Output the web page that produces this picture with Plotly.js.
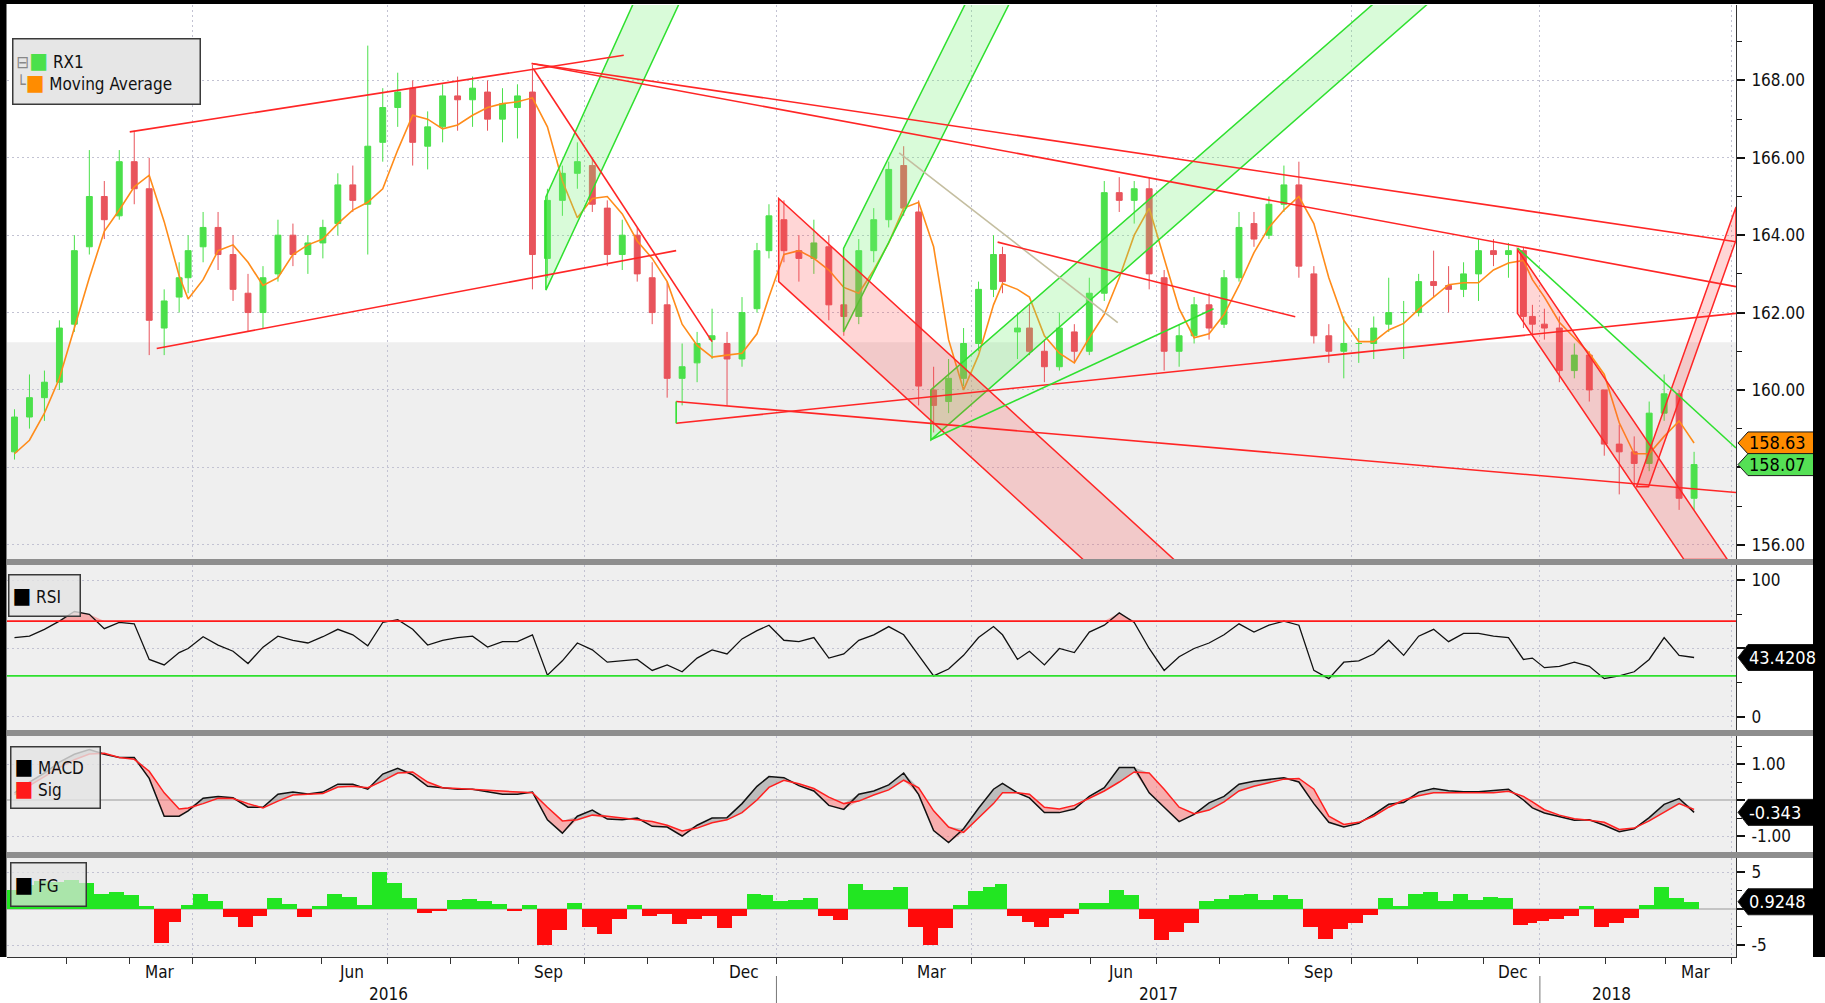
<!DOCTYPE html>
<html>
<head>
<meta charset="utf-8">
<script src="https://cdn.plot.ly/plotly-3.0.1.min.js"></script>
<style>
html,body{margin:0;padding:0;background:#ffffff;overflow:hidden;}
#chart{width:1825px;height:1003px;}
</style>
</head>
<body>
<div id="chart"></div>
<script>
// ---------------- data (weekly samples) ----------------
const weekDates = [
'2016-01-06','2016-01-13','2016-01-20','2016-01-27','2016-02-03','2016-02-10','2016-02-17','2016-02-24','2016-03-02','2016-03-09',
'2016-03-16','2016-03-23','2016-03-30','2016-04-06','2016-04-13','2016-04-20','2016-04-27','2016-05-04','2016-05-11','2016-05-18',
'2016-05-25','2016-06-01','2016-06-08','2016-06-15','2016-06-22','2016-06-29','2016-07-06','2016-07-13','2016-07-20','2016-07-27',
'2016-08-03','2016-08-10','2016-08-17','2016-08-24','2016-08-31','2016-09-07','2016-09-14','2016-09-21','2016-09-28','2016-10-05',
'2016-10-12','2016-10-19','2016-10-26','2016-11-02','2016-11-09','2016-11-16','2016-11-23','2016-11-30','2016-12-07','2016-12-14',
'2016-12-21','2016-12-28',
'2017-01-04','2017-01-11','2017-01-18','2017-01-25','2017-02-01','2017-02-08','2017-02-15','2017-02-22',
'2017-03-01','2017-03-08','2017-03-15','2017-03-22','2017-03-29','2017-04-05','2017-04-12','2017-04-19','2017-04-26','2017-05-03',
'2017-05-10','2017-05-17','2017-05-24','2017-05-31','2017-06-07','2017-06-14','2017-06-21','2017-06-28','2017-07-05','2017-07-12',
'2017-07-19','2017-07-26','2017-08-02','2017-08-09','2017-08-16','2017-08-23','2017-08-30','2017-09-06','2017-09-13','2017-09-20',
'2017-09-27','2017-10-04','2017-10-11','2017-10-18','2017-10-25','2017-11-01','2017-11-08','2017-11-15','2017-11-22','2017-11-29',
'2017-12-06','2017-12-13','2017-12-20','2017-12-27',
'2018-01-03','2018-01-10','2018-01-17','2018-01-24','2018-01-31','2018-02-07','2018-02-14','2018-02-21','2018-02-28','2018-03-07','2018-03-14'
];

const rx1Open = [
158.4,159.3,159.8,160.2,161.7,163.7,165.0,164.5,165.9,165.2,
161.6,162.4,162.9,163.7,164.2,163.5,162.5,162.0,163.0,164.0,
163.5,163.8,164.3,165.3,164.8,166.4,167.3,167.8,166.3,166.8,
167.6,167.5,167.7,167.0,167.3,167.7,163.4,164.9,165.6,165.8,
164.7,163.5,164.0,162.9,162.2,160.3,160.7,161.3,161.2,160.8,
162.1,163.6,164.4,163.6,163.4,163.7,162.2,161.9,163.6,164.4,
165.8,164.6,160.0,159.7,160.3,161.2,162.6,163.5,161.5,161.6,
161.0,160.6,161.5,161.0,162.5,165.1,164.9,165.2,162.9,161.0,
161.4,162.2,161.7,162.9,164.3,164.0,164.8,165.3,163.0,161.4,
161.0,161.2,161.2,161.7,162.0,162.0,162.8,162.7,162.6,163.0,
163.6,163.5,163.6,161.9,161.7,161.6,160.5,160.9,160.0,158.6,
158.4,158.1,159.4,159.9,157.2];
const rx1High = [
159.5,160.4,160.5,161.8,164.0,166.2,165.4,166.2,166.7,166.0,
162.6,163.3,164.0,164.6,164.6,164.0,163.0,163.2,164.4,164.3,
164.0,164.4,165.6,165.8,168.9,167.8,168.2,168.0,167.2,167.9,
168.1,168.1,168.0,167.8,167.9,168.4,165.2,165.8,166.4,166.0,
164.9,164.4,164.2,163.3,162.8,161.2,161.5,162.1,161.5,162.4,
163.8,164.8,164.9,164.0,164.4,164.0,162.6,163.9,164.7,165.9,
166.3,164.9,160.6,160.8,161.6,162.8,164.0,163.7,162.0,162.2,
161.3,162.0,161.7,162.9,165.4,165.5,165.4,165.5,163.1,161.7,
162.4,162.5,163.1,164.6,164.6,165.0,165.8,165.9,163.2,161.7,
161.9,161.6,161.9,162.9,162.3,163.0,163.6,163.2,163.3,163.9,
163.9,163.8,163.7,162.2,162.1,161.9,161.2,161.0,160.0,159.1,
158.8,159.7,160.4,160.0,158.4];
const rx1Low = [
158.2,159.0,159.2,160.0,161.5,163.5,163.9,164.4,164.8,160.9,
160.9,162.0,162.5,163.3,163.1,162.3,161.5,161.6,162.8,163.2,
163.0,163.4,164.0,164.6,163.5,165.9,166.8,165.8,165.7,166.4,
166.7,166.8,166.7,166.4,166.5,162.6,162.9,164.5,165.2,164.6,
163.2,163.1,162.8,161.7,159.8,159.6,160.2,160.8,159.6,160.6,
162.0,163.4,163.3,162.8,163.0,161.8,161.4,161.7,163.3,164.2,
164.5,159.6,158.9,159.4,160.1,161.0,162.4,162.5,160.8,160.9,
160.2,160.5,160.7,160.9,162.3,164.6,164.3,162.6,160.5,160.6,
161.2,161.3,161.6,162.8,163.7,163.9,164.6,162.9,161.2,160.7,
160.3,160.7,160.8,161.5,160.8,161.9,162.4,162.0,162.4,162.3,
163.2,162.9,161.6,161.4,161.3,160.2,160.3,159.7,158.3,157.3,
157.5,157.9,159.2,156.9,156.9];
const rx1Close = [
159.3,159.8,160.2,161.6,163.6,165.0,164.4,165.9,165.2,161.8,
162.3,162.9,163.6,164.2,163.5,162.6,162.0,162.9,164.0,163.5,
163.8,164.2,165.3,164.9,166.3,167.3,167.7,166.4,166.8,167.6,
167.5,167.8,167.0,167.4,167.6,163.5,164.9,165.6,165.9,164.8,
163.5,164.0,163.0,162.0,160.3,160.6,161.2,161.4,160.8,162.0,
163.6,164.5,163.6,163.4,163.8,162.2,161.9,163.6,164.4,165.7,
164.7,160.1,159.6,160.3,161.2,162.6,163.5,162.8,161.6,161.0,
160.6,161.6,161.0,162.5,165.1,164.9,165.2,163.0,161.0,161.4,
162.2,161.6,162.9,164.2,163.9,164.8,165.3,163.2,161.4,161.0,
161.2,161.2,161.6,162.0,162.0,162.8,162.7,162.6,163.0,163.6,
163.5,163.6,161.9,161.7,161.6,160.5,160.9,160.0,158.6,158.4,
158.1,159.4,159.9,157.2,158.07];

const movingAverage = [
158.35,158.7,159.4,160.3,161.6,162.9,164.1,164.65,165.25,165.55,
164.35,162.95,162.35,162.85,163.6,163.75,163.3,162.7,162.9,163.5,
163.75,163.9,164.3,164.65,164.85,165.2,166.2,167.1,167.0,166.75,
166.85,167.1,167.3,167.4,167.45,167.55,166.8,165.4,164.45,164.95,
165.0,164.55,163.85,163.4,162.8,161.7,161.15,160.85,160.9,160.95,
161.45,162.4,
163.5,163.6,163.4,163.1,162.65,162.5,163.1,163.8,
164.7,164.85,163.7,161.3,160.0,160.9,162.2,162.75,162.6,162.4,
161.4,160.95,160.7,161.35,161.95,162.9,164.0,164.7,163.4,162.1,
161.35,161.45,161.95,162.7,163.55,164.2,164.65,165.0,164.3,162.9,
161.8,161.25,161.25,161.55,161.72,162.08,162.4,162.72,162.77,162.77,
163.1,163.28,163.35,162.85,
162.4,161.75,161.35,160.95,160.4,159.15,158.35,158.35,158.8,159.2,158.63];

const rsi = [
58,59,64,70,77,75,64.5,69,68,42,
38,47,50,58.6,52.5,48,39,51,59,56,
54,58.6,64,60,52,69,71,64,52.5,56,
58,59,51,55,55,60,30.5,41,54,49,
40,41,42,34,38,33,43,49,46,57,
63,67,
56,55,58,43,46,56,60,66,
60,45,30,35,45,58,66,60,42,48,
38,50,47,62,67,76,69,50,34,44,
50,54,60,68,62,67,70,67,34,28,
40,41,46,56,45,59,64,55,61,61,
59,58,42,43,
36,37,40,37,28,30,33,42,58,45,43.4208];

const macd = [
0.2,0.5,0.75,1.05,1.27,1.40,1.27,1.18,1.18,0.6,
-0.45,-0.45,-0.3,0.05,0.1,0.06,-0.2,-0.2,0.16,0.22,
0.17,0.22,0.44,0.44,0.3,0.72,0.88,0.7,0.38,0.33,
0.3,0.3,0.23,0.16,0.16,0.22,-0.55,-0.92,-0.45,-0.28,
-0.53,-0.55,-0.5,-0.73,-0.75,-1.0,-0.7,-0.5,-0.49,-0.1,
0.38,0.65,
0.62,0.4,0.25,-0.15,-0.26,0.16,0.25,0.42,
0.75,0.15,-0.85,-1.18,-0.8,-0.23,0.3,0.46,0.2,0.06,
-0.35,-0.35,-0.25,0.1,0.34,0.9,0.9,0.2,-0.2,-0.6,
-0.4,-0.08,0.1,0.44,0.52,0.58,0.62,0.5,-0.1,-0.62,
-0.75,-0.65,-0.4,-0.12,-0.07,0.22,0.32,0.26,0.23,0.23,
0.26,0.3,0.0,-0.22,
-0.36,-0.46,-0.56,-0.55,-0.7,-0.88,-0.8,-0.49,-0.12,0.04,-0.343];

const macdSignal = [
0.15,0.4,0.65,0.9,1.12,1.28,1.30,1.18,1.13,0.8,
0.2,-0.25,-0.22,-0.1,0.05,0.04,-0.1,-0.22,-0.03,0.14,
0.16,0.18,0.36,0.38,0.34,0.53,0.75,0.78,0.5,0.34,
0.32,0.3,0.27,0.25,0.22,0.2,-0.2,-0.58,-0.55,-0.42,
-0.45,-0.5,-0.53,-0.6,-0.7,-0.86,-0.78,-0.63,-0.55,-0.35,
0.0,0.35,
0.55,0.45,0.32,0.08,-0.1,-0.03,0.14,0.28,
0.55,0.34,-0.3,-0.75,-0.9,-0.5,-0.1,0.2,0.2,0.16,
-0.2,-0.25,-0.15,0.05,0.25,0.5,0.78,0.75,0.3,-0.2,
-0.38,-0.28,-0.05,0.25,0.38,0.48,0.58,0.6,0.3,-0.45,
-0.68,-0.62,-0.45,-0.2,0.0,0.12,0.2,0.2,0.2,0.2,
0.2,0.24,0.1,-0.05,
-0.27,-0.42,-0.52,-0.56,-0.62,-0.82,-0.78,-0.58,-0.35,-0.1,-0.26];

const fg = [
2.5,3.2,3.8,3.6,3.9,3.5,2.0,2.2,1.8,0.3,
-4.7,-1.8,0.5,2.0,1.0,-1.2,-2.5,-1.0,1.5,0.6,
-1.2,0.3,2.0,1.6,0.5,5.0,3.5,1.5,-0.6,-0.4,
1.2,1.3,1.0,0.6,-0.3,0.5,-5.0,-3.0,0.8,-2.5,
-3.5,-1.5,0.5,-1.0,-0.8,-2.1,-1.5,-1.0,-2.7,-1.0,
2.0,1.8,
1.0,1.2,1.5,-1.0,-1.6,3.3,2.5,2.5,
3.0,-2.5,-5.0,-2.6,0.5,2.4,2.9,3.4,-1.0,-1.8,
-2.5,-1.3,-0.8,0.8,0.7,2.6,1.8,-1.5,-4.3,-3.2,
-2.0,1.0,1.3,1.8,2.0,1.2,1.8,1.3,-2.5,-4.2,
-2.8,-2.0,-0.9,1.5,0.4,2.0,2.3,1.0,2.0,1.2,
1.6,1.5,-2.2,-2.0,
-1.7,-1.4,-1.0,0.3,-2.5,-2.0,-1.3,0.5,3.0,1.5,0.9248];

// axis / calendar
const X_START = '2016-01-04 00:00';
const X_END = '2018-04-03 12:00';
const exchangeHolidays = ['2016-03-25','2016-03-28','2016-12-26','2017-04-14','2017-04-17','2017-05-01','2017-12-25','2017-12-26','2018-01-01'];
const monthStarts = ['2016-02-01','2016-03-01','2016-04-01','2016-05-02','2016-06-01','2016-07-01','2016-08-01','2016-09-01','2016-10-03','2016-11-01','2016-12-01',
  '2017-01-02','2017-02-01','2017-03-01','2017-04-03','2017-05-02','2017-06-01','2017-07-03','2017-08-01','2017-09-01','2017-10-02','2017-11-01','2017-12-01',
  '2018-01-02','2018-02-01','2018-03-01','2018-04-02'];
const quarterStarts = ['2016-04-01','2016-07-01','2016-10-03','2017-01-02','2017-04-03','2017-07-03','2017-10-02','2018-01-02','2018-04-02'];
const monthLabels = ['Mar','Jun','Sep','Dec','Mar','Jun','Sep','Dec','Mar'];
const monthLabelDates = ['2016-03-15','2016-06-15','2016-09-15','2016-12-15','2017-03-15','2017-06-15','2017-09-15','2017-12-15','2018-03-15'];
const yearLabels = ['2016','2017','2018'];
const yearLabelDates = ['2016-07-01 12:00','2017-07-03 12:00','2018-02-05 00:00'];
const yearDividers = ['2017-01-02','2018-01-02'];
const priceTicks = [156,158,160,162,164,166,168];
const priceMinorTicks = [157,159,161,163,165,167,169];
const rsiTicks = [0,50,100];
const rsiTickText = ['0','','100'];      // "50" sits under the value tag
const macdTicks = [-1,0,1];
const macdTickText = ['-1.00','','1.00']; // "0.00" sits under the value tag
const fgTicks = [-5,0,5];
const fgTickText = ['-5','','5'];         // "0" sits under the value tag

// drawn studies: [date0, price0, date1, price1]
const redLines = [
  ['2016-03-01 00:00',166.67,'2016-10-20 00:00',168.65],
  ['2016-03-14 00:00',161.07,'2016-11-14 12:00',163.60],
  ['2016-09-07 06:00',168.44,'2018-04-03 12:00',163.83],
  ['2016-09-07 06:00',168.44,'2018-04-03 12:00',162.67],
  ['2016-09-07 18:00',168.31,'2016-11-30 12:00',161.25],
  ['2016-11-14 12:00',159.70,'2018-04-03 12:00',157.35],
  ['2016-11-14 12:00',159.14,'2018-04-03 12:00',161.98],
  ['2017-04-13 21:00',163.82,'2017-09-05 07:00',161.89]
];
const greenLines = [
  ['2016-11-14 12:00',159.14,'2016-11-14 12:00',159.70],
  ['2017-03-14 14:00',158.71,'2017-07-28 00:00',162.10],
  ['2017-12-18 12:00',163.67,'2018-04-03 12:00',158.50]
];
const tanLines = [
  ['2017-02-28 00:00',166.13,'2017-06-14 00:00',161.74]
];
// channel polygons: list of [date, price] corners
const greenChannels = [
  [['2016-09-14 00:00',162.58],['2016-11-16 00:00',170.07],['2016-10-25 16:00',170.07],['2016-09-14 00:00',164.99]],
  [['2017-02-01 10:00',161.50],['2017-04-24 08:00',170.07],['2017-03-30 16:00',170.07],['2017-02-01 10:00',163.66]],
  [['2017-03-14 14:00',158.71],['2017-11-07 21:00',170.07],['2017-10-12 17:00',170.07],['2017-03-14 14:00',160.00]]
];
const redChannels = [
  [['2017-01-02 18:00',164.95],['2017-07-11 00:00',155.60],['2017-05-29 16:00',155.60],['2017-01-02 18:00',162.80]],
  [['2017-12-18 12:00',163.63],['2018-03-29 14:00',155.62],['2018-03-09 02:00',155.62],['2017-12-18 12:00',161.98]],
  [['2018-02-15 07:00',157.50],['2018-04-03 12:00',164.73],['2018-04-03 12:00',163.87],['2018-02-21 07:00',157.50]]
];
const shadedBandFloor = 161.23;

// ---------------- styling ----------------
const FONT = '"DejaVu Sans Condensed", "Liberation Sans Narrow", "DejaVu Sans", Arial, sans-serif';
const GRID = '#c2c2d2';
const UP = '#4be04b', DN = '#e8545c';
const RED = '#ff2626', GREEN = '#2fe02f';

const W = 1825, H = 1003, ML = 7, MR = 89, MT = 5, MB = 46;
const PW = W - ML - MR, PH = H - MT - MB;
const px2x = X => (X - ML) / PW;
const px2y = Y => (H - MB - Y) / PH;

const xMid = weekDates.map(d => d + ' 12:00');
const breaks = [{bounds: ['sat', 'mon']}, {values: exchangeHolidays}];
const otherMonths = monthStarts.filter(d => quarterStarts.indexOf(d) < 0);

function xAxis(anchor, bottom) {
  const a = {type: 'date', anchor: anchor, domain: [0, 1], range: [X_START, X_END], rangebreaks: breaks,
    tickmode: 'array', tickvals: quarterStarts, showgrid: true, gridcolor: GRID, griddash: '2px,3px', gridwidth: 1,
    showticklabels: false, ticks: '', zeroline: false, showline: false, fixedrange: true,
    rangeslider: {visible: false}};
  if (bottom) {
    Object.assign(a, {ticks: 'outside', ticklen: 6, tickwidth: 1, tickcolor: '#333', showline: true, linecolor: '#333', linewidth: 1,
      minor: {tickmode: 'array', tickvals: otherMonths, ticks: 'outside', ticklen: 6, tickwidth: 1, tickcolor: '#333', showgrid: false}});
  }
  return a;
}
function yAxis(anchor, domain, range, tickvals, ticktext, minorvals, fmt, zero) {
  const a = {anchor: anchor, domain: domain, range: range, side: 'right', tickmode: 'array', tickvals: tickvals,
    ticks: 'outside', ticklen: 8, tickwidth: 2, tickcolor: '#111', ticklabelstandoff: 3,
    tickfont: {family: FONT, size: 17, color: '#111'}, showline: true, linecolor: '#333', linewidth: 1,
    showgrid: true, gridcolor: GRID, griddash: '2px,3px', gridwidth: 1,
    zeroline: !!zero, zerolinecolor: '#c4c4c4', zerolinewidth: 2, fixedrange: true,
    minor: {tickmode: 'array', tickvals: minorvals, ticks: 'outside', ticklen: 5, tickwidth: 1, tickcolor: '#111', showgrid: false}};
  if (ticktext) a.ticktext = ticktext; else a.tickformat = fmt;
  return a;
}

// ---------------- traces ----------------
const traces = [];
traces.push({type: 'candlestick', x: xMid, open: rx1Open, high: rx1High, low: rx1Low, close: rx1Close,
  xaxis: 'x', yaxis: 'y', whiskerwidth: 0,
  increasing: {line: {color: UP, width: 1}, fillcolor: UP},
  decreasing: {line: {color: DN, width: 1}, fillcolor: DN},
  hoverinfo: 'skip', showlegend: false});
traces.push({type: 'scatter', mode: 'lines', x: xMid, y: movingAverage, xaxis: 'x', yaxis: 'y',
  line: {color: '#ff8c1a', width: 1.6}, hoverinfo: 'skip', showlegend: false});

// RSI with overbought / oversold fills
const rsi70 = rsi.map(() => 70), rsi30 = rsi.map(() => 30);
traces.push({type: 'scatter', mode: 'lines', x: xMid, y: rsi70, xaxis: 'x2', yaxis: 'y2', line: {width: 0}, hoverinfo: 'skip', showlegend: false});
traces.push({type: 'scatter', mode: 'lines', x: xMid, y: rsi.map(v => Math.max(v, 70)), xaxis: 'x2', yaxis: 'y2', line: {width: 0},
  fill: 'tonexty', fillcolor: 'rgba(255,90,90,0.45)', hoverinfo: 'skip', showlegend: false});
traces.push({type: 'scatter', mode: 'lines', x: xMid, y: rsi30, xaxis: 'x2', yaxis: 'y2', line: {width: 0}, hoverinfo: 'skip', showlegend: false});
traces.push({type: 'scatter', mode: 'lines', x: xMid, y: rsi.map(v => Math.min(v, 30)), xaxis: 'x2', yaxis: 'y2', line: {width: 0},
  fill: 'tonexty', fillcolor: 'rgba(110,235,110,0.45)', hoverinfo: 'skip', showlegend: false});
traces.push({type: 'scatter', mode: 'lines', x: xMid, y: rsi, xaxis: 'x2', yaxis: 'y2', line: {color: '#111', width: 1.3},
  hoverinfo: 'skip', showlegend: false});

// MACD with fills between MACD and signal
traces.push({type: 'scatter', mode: 'lines', x: xMid, y: macdSignal, xaxis: 'x3', yaxis: 'y3', line: {width: 0}, hoverinfo: 'skip', showlegend: false});
traces.push({type: 'scatter', mode: 'lines', x: xMid, y: macd.map((v, i) => Math.min(v, macdSignal[i])), xaxis: 'x3', yaxis: 'y3', line: {width: 0},
  fill: 'tonexty', fillcolor: 'rgba(255,110,110,0.5)', hoverinfo: 'skip', showlegend: false});
traces.push({type: 'scatter', mode: 'lines', x: xMid, y: macdSignal, xaxis: 'x3', yaxis: 'y3', line: {width: 0}, hoverinfo: 'skip', showlegend: false});
traces.push({type: 'scatter', mode: 'lines', x: xMid, y: macd.map((v, i) => Math.max(v, macdSignal[i])), xaxis: 'x3', yaxis: 'y3', line: {width: 0},
  fill: 'tonexty', fillcolor: 'rgba(140,140,140,0.5)', hoverinfo: 'skip', showlegend: false});
traces.push({type: 'scatter', mode: 'lines', x: xMid, y: macd, xaxis: 'x3', yaxis: 'y3', line: {color: '#111', width: 1.5}, hoverinfo: 'skip', showlegend: false});
traces.push({type: 'scatter', mode: 'lines', x: xMid, y: macdSignal, xaxis: 'x3', yaxis: 'y3', line: {color: '#ff2020', width: 1.5}, hoverinfo: 'skip', showlegend: false});

// FG histogram
traces.push({type: 'bar', x: xMid, y: fg, xaxis: 'x4', yaxis: 'y4',
  marker: {color: fg.map(v => v >= 0 ? '#22e622' : '#ff0a0a'), line: {width: 0}}, hoverinfo: 'skip', showlegend: false});

// ---------------- shapes ----------------
const shapes = [];
// white upper band of price panel
shapes.push({type: 'rect', xref: 'x domain', yref: 'y', x0: 0, x1: 1, y0: shadedBandFloor, y1: 171, fillcolor: '#ffffff', line: {width: 0}, layer: 'below'});

const toPath = pts => pts.map((p, i) => (i ? 'L' : 'M') + p[0].replace(' ', '_') + ',' + p[1]).join('') + 'Z';
greenChannels.forEach(pts => shapes.push({type: 'path', xref: 'x', yref: 'y', path: toPath(pts),
  fillcolor: 'rgba(120,240,120,0.28)', line: {color: GREEN, width: 1.5}, layer: 'above'}));
redChannels.forEach(pts => shapes.push({type: 'path', xref: 'x', yref: 'y', path: toPath(pts),
  fillcolor: 'rgba(255,70,70,0.22)', line: {color: RED, width: 1.5}, layer: 'above'}));
const seg = (l, color) => ({type: 'line', xref: 'x', yref: 'y', x0: l[0], y0: l[1], x1: l[2], y1: l[3], line: {color: color, width: 1.6}, layer: 'above'});
tanLines.forEach(l => shapes.push(seg(l, '#c4bea0')));
redLines.forEach(l => shapes.push(seg(l, RED)));
greenLines.forEach(l => shapes.push(seg(l, GREEN)));

// RSI 70 / 30 lines
shapes.push({type: 'line', xref: 'x2 domain', yref: 'y2', x0: 0, x1: 1, y0: 70, y1: 70, line: {color: '#ff1a1a', width: 1.6}, layer: 'above'});
shapes.push({type: 'line', xref: 'x2 domain', yref: 'y2', x0: 0, x1: 1, y0: 30, y1: 30, line: {color: '#2ee02e', width: 1.6}, layer: 'above'});

// value tags on the right axis
const tag = (yref, value, fill, hh) => ({type: 'path', xref: 'paper', yref: yref, xsizemode: 'pixel', ysizemode: 'pixel',
  xanchor: 1, yanchor: value, path: 'M2,0L12,' + hh + 'L80,' + hh + 'L80,-' + hh + 'L12,-' + hh + 'Z',
  fillcolor: fill, line: {color: '#1a1a1a', width: 1}, layer: 'above'});
const lastMA = movingAverage[movingAverage.length - 1];
const lastClose = rx1Close[rx1Close.length - 1];
const lastRsi = rsi[rsi.length - 1];
const lastMacd = macd[macd.length - 1];
const lastFg = fg[fg.length - 1];
shapes.push(tag('y', lastMA, '#ff8c00', 11));
shapes.push(tag('y', lastClose, '#55e055', 11));
shapes.push(tag('y2', lastRsi, '#000000', 13));
shapes.push(tag('y3', lastMacd, '#000000', 13));
shapes.push(tag('y4', lastFg, '#000000', 13));

// panel separators, frame bars, year dividers
const rectPx = (X0, Y0, X1, Y1, color) => ({type: 'rect', xref: 'paper', yref: 'paper', x0: px2x(X0), x1: px2x(X1), y0: px2y(Y1), y1: px2y(Y0),
  fillcolor: color, line: {width: 0}, layer: 'above'});
shapes.push(rectPx(7, 559, 1813, 565, '#8e8e8e'));
shapes.push(rectPx(7, 730, 1813, 736, '#8e8e8e'));
shapes.push(rectPx(7, 852, 1813, 858, '#8e8e8e'));
shapes.push(rectPx(0, 0, 6.5, 957, '#000000'));
shapes.push(rectPx(0, 0, 1825, 4, '#000000'));
shapes.push(rectPx(1813, 0, 1825, 957, '#000000'));
yearDividers.forEach(d => shapes.push({type: 'line', xref: 'x4', yref: 'paper', x0: d, x1: d, y0: px2y(976), y1: px2y(1003),
  line: {color: '#777', width: 1}}));

// ---------------- annotations ----------------
const ann = [];
const sq = (c) => '<span style="color:' + c + ';font-size:22px">■</span>';
const legendBox = (X0, Y0, X1, Y1, html, bg) => {
  const bw = 1.5, pad = 3;
  return {xref: 'paper', yref: 'paper', x: px2x(X0), y: px2y(Y0), xanchor: 'left', yanchor: 'top', showarrow: false,
    text: html, align: 'left', valign: 'middle', width: X1 - X0 - 2 * pad - 2 * bw, height: Y1 - Y0 - 2 * pad - 2 * bw,
    bgcolor: bg, bordercolor: '#3a3a3a', borderwidth: bw, borderpad: pad, font: {family: FONT, size: 17, color: '#111'}};
};
ann.push(legendBox(12, 38, 201, 105,
  '<span style="color:#888">⊟</span>' + sq('#4be04b') + ' RX1<br><span style="color:#888">└</span>' + sq('#ff8c00') + ' Moving Average', '#e6e6e6'));
ann.push(legendBox(8, 574, 81, 617, sq('#000') + ' RSI', 'rgba(228,228,228,0.8)'));
ann.push(legendBox(10, 746, 101, 809, sq('#000') + ' MACD<br>' + sq('#ff1a1a') + ' Sig', 'rgba(228,228,228,0.8)'));
ann.push(legendBox(10, 862, 87, 907, sq('#000') + ' FG', 'rgba(228,228,228,0.7)'));

const tagText = (yref, value, txt, color) => ({xref: 'paper', x: 1, xanchor: 'left', xshift: 11, yref: yref, y: value, yanchor: 'middle',
  text: txt, showarrow: false, font: {family: FONT, size: 18, color: color}});
ann.push(tagText('y', lastMA, lastMA.toFixed(2), '#000'));
ann.push(tagText('y', lastClose, lastClose.toFixed(2), '#000'));
ann.push(tagText('y2', lastRsi, lastRsi.toFixed(4), '#fff'));
ann.push(tagText('y3', lastMacd, lastMacd.toFixed(3), '#fff'));
ann.push(tagText('y4', lastFg, lastFg.toFixed(4), '#fff'));

monthLabels.forEach((m, i) => ann.push({xref: 'x4', yref: 'paper', x: monthLabelDates[i], y: px2y(972), xanchor: 'center', yanchor: 'middle',
  text: m, showarrow: false, font: {family: FONT, size: 17, color: '#111'}}));
yearLabels.forEach((t, i) => ann.push({xref: 'x4', yref: 'paper', x: yearLabelDates[i], y: px2y(994), xanchor: 'center', yanchor: 'middle',
  text: t, showarrow: false, font: {family: FONT, size: 17, color: '#111'}}));

// ---------------- layout ----------------
const layout = {
  width: W, height: H, margin: {l: ML, r: MR, t: MT, b: MB, pad: 0},
  paper_bgcolor: '#ffffff', plot_bgcolor: '#efefef',
  font: {family: FONT, size: 17, color: '#111'},
  showlegend: false, hovermode: false, dragmode: false,
  boxgap: 0.72, boxgroupgap: 0, bargap: 0,
  xaxis: xAxis('y', false), xaxis2: xAxis('y2', false), xaxis3: xAxis('y3', false), xaxis4: xAxis('y4', true),
  yaxis: yAxis('x', [px2y(559), 1], [155.63, 169.95], priceTicks, null, priceMinorTicks, '.2f', false),
  yaxis2: yAxis('x2', [px2y(730), px2y(565)], [-9.5, 110.95], rsiTicks, rsiTickText, [25, 75], 'd', false),
  yaxis3: yAxis('x3', [px2y(852), px2y(736)], [-1.444, 1.778], macdTicks, macdTickText, [-0.5, 0.5, 1.5], '.2f', true),
  yaxis4: yAxis('x4', [0, px2y(858)], [-6.64, 6.92], fgTicks, fgTickText, [-2.5, 2.5], 'd', true),
  shapes: shapes, annotations: ann
};

Plotly.newPlot('chart', traces, layout, {staticPlot: true, displayModeBar: false});
</script>
</body>
</html>
